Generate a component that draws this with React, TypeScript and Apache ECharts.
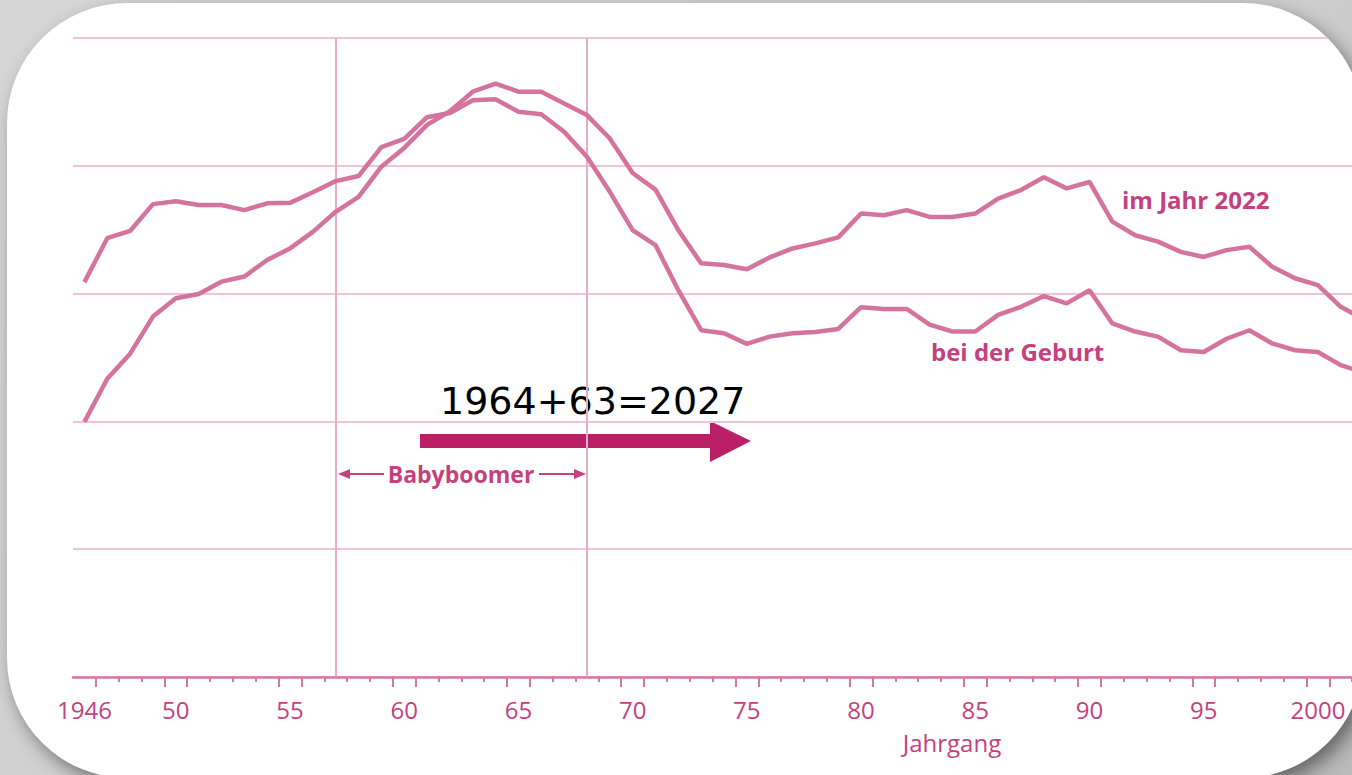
import React, { useEffect, useRef } from "react";
import * as echarts from "echarts";

const years: string[] = [];
for (let y = 1946; y <= 2002; y++) years.push(String(y));

// Lebendgeborene (Tsd.) – "bei der Geburt"
const beiDerGeburt = [
  927, 1030, 1047, 1110, 1117, 1108, 1108, 1096, 1112, 1113,
  1138, 1164, 1176, 1244, 1263, 1314, 1324, 1354, 1356, 1327,
  1321, 1280, 1221, 1139, 1049, 1014, 908, 814, 807, 782,
  799, 807, 810, 817, 868, 864, 864, 827, 811, 811,
  850, 869, 894, 877, 908, 830, 811, 799, 767, 763,
  794, 814, 783, 767, 763, 732, 715,
];

// Bevölkerung (Tsd.) – "im Jahr 2022"
const imJahr2022 = [
  599, 700, 759, 846, 889, 899, 928, 940, 979, 1006,
  1045, 1092, 1127, 1198, 1242, 1296, 1328, 1374, 1393, 1374,
  1374, 1346, 1319, 1264, 1183, 1144, 1049, 971, 967, 957,
  985, 1006, 1018, 1032, 1088, 1084, 1096, 1080, 1080, 1088,
  1123, 1143, 1173, 1147, 1162, 1069, 1037, 1022, 998, 986,
  1002, 1010, 963, 936, 920, 869, 840,
];

const babyboomerYears = ["1957", "1968"];

const LINE = "#d5739f";
const TEXT = "#c4417e";
const GRID = "#f0c4d8";
const VLINE = "#e6adc8";
const AXIS = "#d27aa5";
const FONT = "'Open Sans', 'Noto Sans', sans-serif";

export default function App() {
  const ref = useRef<HTMLDivElement>(null);

  useEffect(() => {
    if (!ref.current) return;
    const chart = echarts.init(ref.current, null, { renderer: "svg" });
    const isLabelYear = (v: string) => v === "1946" || Number(v) % 5 === 0;
    chart.setOption({
      animation: false,
      grid: { left: 73, top: 38, width: 1302, height: 639 },
      xAxis: [
        {
          type: "category",
          data: years,
          boundaryGap: true,
          position: "bottom",
          axisLine: { lineStyle: { color: AXIS, width: 2.5 } },
          axisTick: {
            show: true,
            length: 5,
            interval: (i: number) => i > 0,
            lineStyle: { color: AXIS, width: 2 },
          },
          axisLabel: {
            interval: (_i: number, v: string) => isLabelYear(v),
            formatter: (v: string) => (v === "1946" || v === "2000" ? v : v.slice(2)),
            color: TEXT,
            fontSize: 24,
            fontWeight: 500,
            fontFamily: FONT,
            margin: 20,
          },
          splitLine: { show: false },
        },
        {
          type: "category",
          data: years,
          boundaryGap: true,
          position: "bottom",
          axisLine: { show: false },
          axisTick: {
            show: true,
            length: 10,
            interval: (_i: number, v: string) => {
              const n = Number(v);
              return n === 1947 || (n > 1946 && (n % 5 === 0 || n % 5 === 1));
            },
            lineStyle: { color: AXIS, width: 2 },
          },
          axisLabel: { show: false },
          splitLine: { show: false },
        },
      ],
      yAxis: {
        type: "value",
        min: 0,
        max: 1500,
        interval: 300,
        axisLine: { show: false },
        axisTick: { show: false },
        axisLabel: { show: false },
        splitLine: { lineStyle: { color: GRID, width: 2 } },
      },
      series: [
        {
          name: "bei der Geburt",
          type: "line",
          data: beiDerGeburt,
          symbol: "none",
          lineStyle: { color: LINE, width: 4.5 },
          z: 3,
          markLine: {
            silent: true,
            symbol: ["none", "none"],
            label: { show: false },
            lineStyle: { color: VLINE, width: 2, type: "solid" },
            data: babyboomerYears.map((y) => ({ xAxis: y })),
            z: 1,
          },
        },
        {
          name: "im Jahr 2022",
          type: "line",
          data: imJahr2022,
          symbol: "none",
          lineStyle: { color: LINE, width: 4.5 },
          z: 3,
        },
      ],
      graphic: [
        {
          type: "text",
          left: 1122,
          top: 187,
          style: { text: "im Jahr 2022", fill: TEXT, font: `bold 24px ${FONT}` },
        },
        {
          type: "text",
          left: 931,
          top: 339,
          style: { text: "bei der Geburt", fill: TEXT, font: `bold 24px ${FONT}` },
        },
        {
          type: "text",
          x: 461,
          y: 474,
          style: {
            text: "Babyboomer",
            fill: TEXT,
            font: `bold 23px ${FONT}`,
            align: "center",
            verticalAlign: "middle",
          },
        },
        {
          type: "line",
          shape: { x1: 342, y1: 474, x2: 384, y2: 474 },
          style: { stroke: TEXT, lineWidth: 2 },
        },
        {
          type: "polygon",
          shape: { points: [[338, 474], [350, 469], [350, 479]] },
          style: { fill: TEXT },
        },
        {
          type: "line",
          shape: { x1: 539, y1: 474, x2: 582, y2: 474 },
          style: { stroke: TEXT, lineWidth: 2 },
        },
        {
          type: "polygon",
          shape: { points: [[586, 474], [574, 469], [574, 479]] },
          style: { fill: TEXT },
        },
        {
          type: "text",
          x: 952,
          y: 742,
          style: {
            text: "Jahrgang",
            fill: TEXT,
            font: `500 24px ${FONT}`,
            align: "center",
            verticalAlign: "middle",
          },
        },
        {
          type: "text",
          x: 440,
          y: 401,
          style: {
            text: "1964+63=2027",
            fill: "#000",
            font: "38px 'DejaVu Sans', sans-serif",
            verticalAlign: "middle",
          },
        },
        {
          type: "rect",
          shape: { x: 420, y: 434, width: 292, height: 14 },
          style: { fill: "#bb2066" },
        },
        {
          type: "polygon",
          shape: { points: [[710, 421], [751, 441], [710, 462]] },
          style: { fill: "#bb2066" },
        },
      ],
    });
    return () => chart.dispose();
  }, []);

  return (
    <div
      style={{
        position: "fixed",
        inset: 0,
        overflow: "hidden",
        background: "linear-gradient(135deg, #d6d6d6 0%, #cdcdcd 60%, #b9b9b9 100%)",
      }}
    >
      <div
        style={{
          position: "absolute",
          left: 7,
          top: 3,
          width: 1356,
          height: 775,
          background: "#fff",
          borderRadius: 120,
          overflow: "hidden",
          boxShadow: "6px 8px 18px rgba(0,0,0,0.45)",
        }}
      >
        <div
          ref={ref}
          style={{ position: "absolute", left: -7, top: -3, width: 1400, height: 775 }}
        />
      </div>
    </div>
  );
}
